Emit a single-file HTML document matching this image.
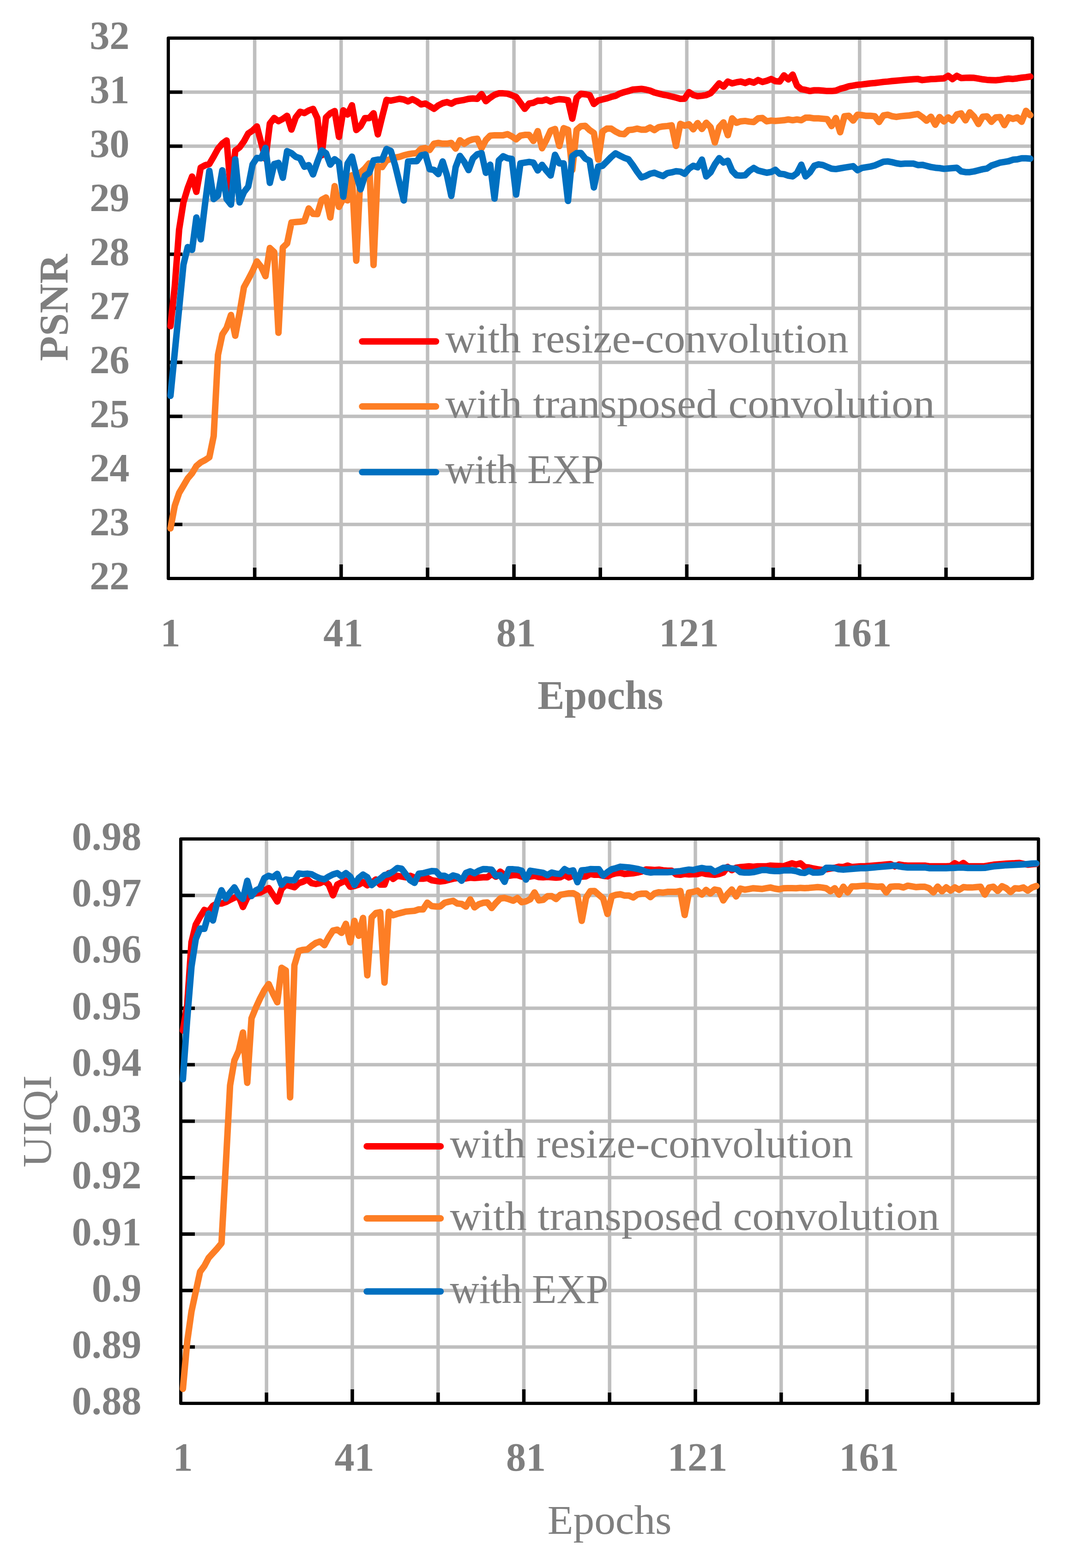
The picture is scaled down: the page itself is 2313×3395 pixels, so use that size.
<!DOCTYPE html>
<html><head><meta charset="utf-8"><style>
html,body{margin:0;padding:0;background:#fff;}
svg{display:block;}
text{font-family:'Liberation Serif', serif;}
</style></head><body>
<svg width="2313" height="3395" viewBox="0 0 2313 3395">
<rect width="2313" height="3395" fill="#fff"/>
<line x1="364.5" y1="199.5" x2="2236" y2="199.5" stroke="#bfbfbf" stroke-width="7.5"/>
<line x1="364.5" y1="316.5" x2="2236" y2="316.5" stroke="#bfbfbf" stroke-width="7.5"/>
<line x1="364.5" y1="433.5" x2="2236" y2="433.5" stroke="#bfbfbf" stroke-width="7.5"/>
<line x1="364.5" y1="550.5" x2="2236" y2="550.5" stroke="#bfbfbf" stroke-width="7.5"/>
<line x1="364.5" y1="667.5" x2="2236" y2="667.5" stroke="#bfbfbf" stroke-width="7.5"/>
<line x1="364.5" y1="784.5" x2="2236" y2="784.5" stroke="#bfbfbf" stroke-width="7.5"/>
<line x1="364.5" y1="901.5" x2="2236" y2="901.5" stroke="#bfbfbf" stroke-width="7.5"/>
<line x1="364.5" y1="1018.5" x2="2236" y2="1018.5" stroke="#bfbfbf" stroke-width="7.5"/>
<line x1="364.5" y1="1135.5" x2="2236" y2="1135.5" stroke="#bfbfbf" stroke-width="7.5"/>
<line x1="551.6" y1="82.5" x2="551.6" y2="1252.5" stroke="#bfbfbf" stroke-width="7.5"/>
<line x1="738.8" y1="82.5" x2="738.8" y2="1252.5" stroke="#bfbfbf" stroke-width="7.5"/>
<line x1="926.0" y1="82.5" x2="926.0" y2="1252.5" stroke="#bfbfbf" stroke-width="7.5"/>
<line x1="1113.1" y1="82.5" x2="1113.1" y2="1252.5" stroke="#bfbfbf" stroke-width="7.5"/>
<line x1="1300.2" y1="82.5" x2="1300.2" y2="1252.5" stroke="#bfbfbf" stroke-width="7.5"/>
<line x1="1487.4" y1="82.5" x2="1487.4" y2="1252.5" stroke="#bfbfbf" stroke-width="7.5"/>
<line x1="1674.5" y1="82.5" x2="1674.5" y2="1252.5" stroke="#bfbfbf" stroke-width="7.5"/>
<line x1="1861.7" y1="82.5" x2="1861.7" y2="1252.5" stroke="#bfbfbf" stroke-width="7.5"/>
<line x1="2048.8" y1="82.5" x2="2048.8" y2="1252.5" stroke="#bfbfbf" stroke-width="7.5"/>
<line x1="364.5" y1="199.5" x2="395.0" y2="199.5" stroke="#000" stroke-width="7.5"/>
<line x1="364.5" y1="316.5" x2="395.0" y2="316.5" stroke="#000" stroke-width="7.5"/>
<line x1="364.5" y1="433.5" x2="395.0" y2="433.5" stroke="#000" stroke-width="7.5"/>
<line x1="364.5" y1="550.5" x2="395.0" y2="550.5" stroke="#000" stroke-width="7.5"/>
<line x1="364.5" y1="667.5" x2="395.0" y2="667.5" stroke="#000" stroke-width="7.5"/>
<line x1="364.5" y1="784.5" x2="395.0" y2="784.5" stroke="#000" stroke-width="7.5"/>
<line x1="364.5" y1="901.5" x2="395.0" y2="901.5" stroke="#000" stroke-width="7.5"/>
<line x1="364.5" y1="1018.5" x2="395.0" y2="1018.5" stroke="#000" stroke-width="7.5"/>
<line x1="364.5" y1="1135.5" x2="395.0" y2="1135.5" stroke="#000" stroke-width="7.5"/>
<line x1="551.6" y1="1252.5" x2="551.6" y2="1229.0" stroke="#000" stroke-width="7.5"/>
<line x1="738.8" y1="1252.5" x2="738.8" y2="1222.0" stroke="#000" stroke-width="7.5"/>
<line x1="926.0" y1="1252.5" x2="926.0" y2="1229.0" stroke="#000" stroke-width="7.5"/>
<line x1="1113.1" y1="1252.5" x2="1113.1" y2="1222.0" stroke="#000" stroke-width="7.5"/>
<line x1="1300.2" y1="1252.5" x2="1300.2" y2="1229.0" stroke="#000" stroke-width="7.5"/>
<line x1="1487.4" y1="1252.5" x2="1487.4" y2="1222.0" stroke="#000" stroke-width="7.5"/>
<line x1="1674.5" y1="1252.5" x2="1674.5" y2="1229.0" stroke="#000" stroke-width="7.5"/>
<line x1="1861.7" y1="1252.5" x2="1861.7" y2="1222.0" stroke="#000" stroke-width="7.5"/>
<line x1="2048.8" y1="1252.5" x2="2048.8" y2="1229.0" stroke="#000" stroke-width="7.5"/>
<rect x="364.5" y="82.5" width="1871.5" height="1170.0" fill="none" stroke="#000" stroke-width="7" stroke-linejoin="round"/>
<text x="280.5" y="1276.0" text-anchor="end" font-weight="bold" font-size="86.3" fill="#7f7f7f">22</text>
<text x="280.5" y="1159.0" text-anchor="end" font-weight="bold" font-size="86.3" fill="#7f7f7f">23</text>
<text x="280.5" y="1042.0" text-anchor="end" font-weight="bold" font-size="86.3" fill="#7f7f7f">24</text>
<text x="280.5" y="925.0" text-anchor="end" font-weight="bold" font-size="86.3" fill="#7f7f7f">25</text>
<text x="280.5" y="808.0" text-anchor="end" font-weight="bold" font-size="86.3" fill="#7f7f7f">26</text>
<text x="280.5" y="691.0" text-anchor="end" font-weight="bold" font-size="86.3" fill="#7f7f7f">27</text>
<text x="280.5" y="574.0" text-anchor="end" font-weight="bold" font-size="86.3" fill="#7f7f7f">28</text>
<text x="280.5" y="457.0" text-anchor="end" font-weight="bold" font-size="86.3" fill="#7f7f7f">29</text>
<text x="280.5" y="340.0" text-anchor="end" font-weight="bold" font-size="86.3" fill="#7f7f7f">30</text>
<text x="280.5" y="223.0" text-anchor="end" font-weight="bold" font-size="86.3" fill="#7f7f7f">31</text>
<text x="280.5" y="106.0" text-anchor="end" font-weight="bold" font-size="86.3" fill="#7f7f7f">32</text>
<text x="369.2" y="1398.5" text-anchor="middle" font-weight="bold" font-size="86.3" fill="#7f7f7f">1</text>
<text x="743.5" y="1398.5" text-anchor="middle" font-weight="bold" font-size="86.3" fill="#7f7f7f">41</text>
<text x="1117.8" y="1398.5" text-anchor="middle" font-weight="bold" font-size="86.3" fill="#7f7f7f">81</text>
<text x="1492.1" y="1398.5" text-anchor="middle" font-weight="bold" font-size="86.3" fill="#7f7f7f">121</text>
<text x="1866.4" y="1398.5" text-anchor="middle" font-weight="bold" font-size="86.3" fill="#7f7f7f">161</text>
<text x="1300.2" y="1535" text-anchor="middle" font-weight="bold" textLength="272" lengthAdjust="spacingAndGlyphs" font-size="88.6" fill="#7f7f7f">Epochs</text>
<text transform="translate(145.7,666) rotate(-90)" text-anchor="middle" font-weight="bold" font-size="88.6" fill="#7f7f7f">PSNR</text>
<polyline points="369.2,706.3 378.5,620.0 387.9,497.0 397.3,438.0 406.6,407.0 416.0,382.2 425.3,415.3 434.7,363.0 444.0,358.0 453.4,355.0 462.8,339.0 472.1,322.0 481.5,311.0 490.8,304.2 500.2,415.0 509.5,326.0 518.9,319.0 528.3,306.0 537.6,289.0 547.0,282.7 556.3,273.7 565.7,309.5 575.0,344.2 584.4,267.6 593.8,255.5 603.1,262.4 612.5,257.4 621.8,250.8 631.2,280.6 640.5,254.2 649.9,242.1 659.3,244.7 668.6,239.2 678.0,235.7 687.3,255.8 696.7,336.3 706.0,254.2 715.4,245.2 724.8,240.5 734.1,296.4 743.5,238.9 752.8,247.9 762.2,227.9 771.6,281.4 780.9,273.2 790.3,255.8 799.6,255.8 809.0,245.2 818.3,290.9 827.7,252.6 837.1,216.3 846.4,217.9 855.8,216.0 865.1,214.0 874.5,215.5 883.8,219.5 893.2,214.7 902.6,219.5 911.9,226.1 921.3,224.2 930.6,229.7 940.0,235.6 949.3,228.2 958.7,223.4 968.1,221.1 977.4,224.5 986.8,219.5 996.1,217.9 1005.5,216.3 1014.8,214.0 1024.2,213.2 1033.6,214.0 1042.9,203.7 1052.3,219.0 1061.6,211.6 1071.0,205.3 1080.3,202.1 1089.7,202.1 1099.1,202.9 1108.4,206.1 1117.8,210.0 1127.1,222.6 1136.5,235.6 1145.9,224.2 1155.2,222.6 1164.6,217.9 1173.9,218.2 1183.3,215.5 1192.6,219.8 1202.0,216.3 1211.4,214.7 1220.7,215.5 1230.1,217.1 1239.4,256.9 1248.8,211.6 1258.1,202.9 1267.5,204.2 1276.9,205.8 1286.2,225.1 1295.6,217.6 1304.9,215.3 1314.3,212.9 1323.6,209.8 1333.0,207.4 1342.4,202.6 1351.7,199.5 1361.1,197.1 1370.4,194.0 1379.8,193.2 1389.1,192.4 1398.5,194.0 1407.9,196.3 1417.2,200.3 1426.6,202.6 1435.9,205.0 1445.3,206.6 1454.6,209.0 1464.0,211.3 1473.4,214.0 1482.7,213.7 1492.1,199.5 1501.4,205.8 1510.8,208.2 1520.2,207.4 1529.5,205.8 1538.9,201.9 1548.2,191.6 1557.6,180.5 1566.9,187.6 1576.3,176.6 1585.7,180.5 1595.0,178.2 1604.4,176.6 1613.7,179.7 1623.1,175.8 1632.4,179.0 1641.8,173.4 1651.2,177.4 1660.5,175.0 1669.9,171.1 1679.2,175.8 1688.6,176.6 1697.9,163.2 1707.3,171.9 1716.7,161.6 1726.0,185.3 1735.4,193.2 1744.7,194.7 1754.1,197.1 1763.4,195.5 1772.8,195.5 1782.2,196.3 1791.5,197.1 1800.9,197.1 1810.2,196.3 1819.6,192.4 1828.9,190.0 1838.3,186.9 1847.7,185.3 1857.0,183.7 1866.4,182.9 1875.7,181.8 1885.1,180.5 1894.5,179.7 1903.8,178.6 1913.2,177.4 1922.5,176.6 1931.9,175.5 1941.2,174.7 1950.6,173.9 1960.0,173.0 1969.3,172.3 1978.7,171.5 1988.0,171.1 1997.4,173.4 2006.7,172.4 2016.1,171.3 2025.5,170.9 2034.8,170.2 2044.2,169.7 2053.5,164.2 2062.9,171.3 2072.2,164.2 2081.6,169.0 2091.0,168.6 2100.3,168.2 2109.7,168.6 2119.0,170.2 2128.4,171.8 2137.7,172.9 2147.1,173.4 2156.5,173.7 2165.8,172.9 2175.2,171.3 2184.5,170.2 2193.9,170.9 2203.2,169.7 2212.6,168.2 2222.0,167.1 2231.3,165.8" fill="none" stroke="#ff0000" stroke-width="14" stroke-linejoin="round" stroke-linecap="round"/>
<polyline points="369.2,1144.0 378.5,1095.0 387.9,1067.4 397.3,1051.6 406.6,1035.8 416.0,1024.8 425.3,1009.0 434.7,1001.1 444.0,996.3 453.4,990.0 462.8,944.2 472.1,768.4 481.5,724.2 490.8,710.0 500.2,682.0 509.5,727.0 518.9,677.0 528.3,622.0 537.6,605.0 547.0,587.0 556.3,566.0 565.7,578.0 575.0,598.0 584.4,537.0 593.8,545.8 603.1,720.6 612.5,536.0 621.8,527.0 631.2,481.6 640.5,480.8 649.9,480.0 659.3,478.5 668.6,451.3 678.0,463.0 687.3,463.4 696.7,432.6 706.0,427.6 715.4,470.9 724.8,403.1 734.1,448.0 743.5,430.0 752.8,433.8 762.2,379.4 771.6,564.5 780.9,373.5 790.3,364.8 799.6,353.7 809.0,573.8 818.3,360.0 827.7,361.6 837.1,347.4 846.4,344.2 855.8,341.1 865.1,339.5 874.5,336.3 883.8,334.0 893.2,332.4 902.6,331.6 911.9,322.1 921.3,320.6 930.6,324.5 940.0,311.1 949.3,309.5 958.7,311.1 968.1,311.1 977.4,309.5 986.8,321.7 996.1,303.7 1005.5,311.4 1014.8,304.8 1024.2,301.6 1033.6,300.5 1042.9,320.9 1052.3,303.2 1061.6,293.7 1071.0,292.9 1080.3,292.9 1089.7,292.9 1099.1,290.5 1108.4,295.3 1117.8,301.6 1127.1,293.7 1136.5,292.1 1145.9,292.1 1155.2,305.1 1164.6,283.9 1173.9,320.9 1183.3,303.2 1192.6,282.7 1202.0,279.2 1211.4,316.1 1220.7,277.6 1230.1,281.1 1239.4,368.0 1248.8,281.0 1258.1,273.2 1267.5,272.6 1276.9,281.6 1286.2,288.0 1295.6,345.5 1304.9,284.8 1314.3,278.5 1323.6,278.5 1333.0,284.8 1342.4,289.5 1351.7,290.6 1361.1,281.6 1370.4,280.8 1379.8,278.5 1389.1,280.8 1398.5,280.8 1407.9,276.1 1417.2,281.6 1426.6,275.3 1435.9,273.7 1445.3,272.9 1454.6,271.3 1464.0,315.9 1473.4,268.2 1482.7,272.1 1492.1,269.0 1501.4,280.0 1510.8,266.6 1520.2,279.2 1529.5,265.8 1538.9,275.3 1548.2,308.5 1557.6,275.3 1566.9,265.0 1576.3,292.7 1585.7,256.3 1595.0,265.8 1604.4,262.7 1613.7,261.9 1623.1,263.4 1632.4,264.2 1641.8,256.3 1651.2,255.6 1660.5,262.7 1669.9,261.1 1679.2,261.9 1688.6,261.1 1697.9,260.3 1707.3,258.7 1716.7,260.3 1726.0,258.7 1735.4,260.3 1744.7,254.8 1754.1,254.8 1763.4,256.3 1772.8,256.3 1782.2,257.1 1791.5,257.9 1800.9,272.9 1810.2,255.6 1819.6,286.3 1828.9,251.6 1838.3,250.8 1847.7,261.1 1857.0,248.4 1866.4,249.2 1875.7,250.8 1885.1,250.8 1894.5,251.6 1903.8,264.2 1913.2,250.0 1922.5,248.4 1931.9,251.6 1941.2,253.2 1950.6,251.6 1960.0,250.8 1969.3,250.0 1978.7,248.4 1988.0,246.9 1997.4,253.4 2006.7,261.3 2016.1,252.7 2025.5,270.0 2034.8,253.4 2044.2,262.9 2053.5,254.2 2062.9,261.3 2072.2,247.9 2081.6,245.6 2091.0,260.6 2100.3,243.2 2109.7,252.7 2119.0,268.5 2128.4,252.7 2137.7,251.9 2147.1,263.7 2156.5,254.2 2165.8,253.4 2175.2,270.8 2184.5,254.2 2193.9,257.4 2203.2,254.2 2212.6,263.7 2222.0,240.0 2231.3,249.5" fill="none" stroke="#fd7e25" stroke-width="14" stroke-linejoin="round" stroke-linecap="round"/>
<polyline points="369.2,857.0 378.5,763.0 387.9,668.0 397.3,573.0 406.6,535.0 416.0,541.0 425.3,471.0 434.7,518.2 444.0,442.0 453.4,370.0 462.8,431.0 472.1,423.5 481.5,368.8 490.8,431.0 500.2,443.0 509.5,345.0 518.9,438.3 528.3,416.0 537.6,404.0 547.0,356.0 556.3,341.9 565.7,342.7 575.0,320.2 584.4,395.9 593.8,355.3 603.1,352.6 612.5,384.8 621.8,327.3 631.2,331.6 640.5,339.5 649.9,342.7 659.3,361.1 668.6,357.4 678.0,377.7 687.3,350.6 696.7,325.8 706.0,331.6 715.4,356.4 724.8,344.7 734.1,352.1 743.5,425.9 752.8,353.7 762.2,339.2 771.6,378.0 780.9,410.0 790.3,380.6 799.6,374.2 809.0,347.4 818.3,345.5 827.7,345.8 837.1,322.6 846.4,326.9 855.8,358.0 865.1,396.0 874.5,434.0 883.8,349.8 893.2,349.0 902.6,349.0 911.9,336.3 921.3,334.5 930.6,366.4 940.0,367.9 949.3,376.9 958.7,349.5 968.1,380.0 977.4,424.3 986.8,362.0 996.1,337.6 1005.5,350.5 1014.8,368.3 1024.2,343.0 1033.6,334.0 1042.9,331.6 1052.3,374.2 1061.6,356.6 1071.0,430.0 1080.3,347.4 1089.7,338.4 1099.1,342.7 1108.4,344.2 1117.8,421.2 1127.1,353.7 1136.5,352.1 1145.9,350.6 1155.2,352.1 1164.6,369.0 1173.9,356.9 1183.3,369.5 1192.6,380.1 1202.0,335.2 1211.4,353.7 1220.7,353.7 1230.1,435.0 1239.4,338.0 1248.8,331.6 1258.1,331.3 1267.5,343.2 1276.9,347.9 1286.2,405.9 1295.6,360.5 1304.9,359.0 1314.3,349.5 1323.6,340.0 1333.0,332.1 1342.4,336.9 1351.7,341.6 1361.1,344.8 1370.4,357.4 1379.8,371.6 1389.1,384.2 1398.5,381.1 1407.9,376.3 1417.2,374.0 1426.6,377.9 1435.9,381.1 1445.3,374.8 1454.6,373.2 1464.0,370.8 1473.4,371.6 1482.7,376.3 1492.1,365.3 1501.4,359.0 1510.8,362.2 1520.2,345.6 1529.5,381.9 1538.9,373.2 1548.2,355.8 1557.6,342.4 1566.9,351.9 1576.3,347.9 1585.7,370.0 1595.0,379.5 1604.4,380.3 1613.7,379.5 1623.1,370.0 1632.4,363.7 1641.8,369.2 1651.2,371.6 1660.5,374.0 1669.9,372.4 1679.2,367.7 1688.6,376.3 1697.9,377.1 1707.3,380.3 1716.7,381.9 1726.0,375.0 1735.4,356.6 1744.7,381.9 1754.1,373.2 1763.4,359.0 1772.8,355.8 1782.2,357.4 1791.5,361.4 1800.9,365.3 1810.2,366.1 1819.6,364.5 1828.9,362.9 1838.3,361.4 1847.7,359.8 1857.0,368.5 1866.4,363.7 1875.7,362.1 1885.1,360.6 1894.5,358.2 1903.8,354.3 1913.2,350.3 1922.5,349.5 1931.9,351.1 1941.2,353.5 1950.6,355.0 1960.0,354.3 1969.3,354.3 1978.7,354.3 1988.0,357.4 1997.4,356.9 2006.7,359.3 2016.1,361.6 2025.5,363.2 2034.8,364.0 2044.2,365.6 2053.5,364.8 2062.9,364.0 2072.2,363.2 2081.6,371.0 2091.0,372.7 2100.3,372.7 2109.7,371.1 2119.0,368.7 2128.4,366.4 2137.7,364.8 2147.1,358.5 2156.5,355.3 2165.8,352.1 2175.2,350.6 2184.5,349.0 2193.9,345.8 2203.2,345.0 2212.6,342.7 2222.0,342.7 2231.3,343.5" fill="none" stroke="#0070c0" stroke-width="14" stroke-linejoin="round" stroke-linecap="round"/>
<line x1="784.3" y1="739.2" x2="944.2" y2="739.2" stroke="#ff0000" stroke-width="14" stroke-linecap="round"/>
<text x="964.5" y="762.7" font-size="88.6" fill="#7f7f7f" textLength="873" lengthAdjust="spacingAndGlyphs">with resize-convolution</text>
<line x1="784.3" y1="880.1" x2="944.2" y2="880.1" stroke="#fd7e25" stroke-width="14" stroke-linecap="round"/>
<text x="964.5" y="903.6" font-size="88.6" fill="#7f7f7f" textLength="1060" lengthAdjust="spacingAndGlyphs">with transposed convolution</text>
<line x1="784.3" y1="1022.3" x2="944.2" y2="1022.3" stroke="#0070c0" stroke-width="14" stroke-linecap="round"/>
<text x="964.5" y="1045.8" font-size="88.6" fill="#7f7f7f" textLength="343" lengthAdjust="spacingAndGlyphs">with EXP</text>
<line x1="391.5" y1="1938.7" x2="2249" y2="1938.7" stroke="#bfbfbf" stroke-width="7.5"/>
<line x1="391.5" y1="2060.9" x2="2249" y2="2060.9" stroke="#bfbfbf" stroke-width="7.5"/>
<line x1="391.5" y1="2183.1" x2="2249" y2="2183.1" stroke="#bfbfbf" stroke-width="7.5"/>
<line x1="391.5" y1="2305.3" x2="2249" y2="2305.3" stroke="#bfbfbf" stroke-width="7.5"/>
<line x1="391.5" y1="2427.6" x2="2249" y2="2427.6" stroke="#bfbfbf" stroke-width="7.5"/>
<line x1="391.5" y1="2549.8" x2="2249" y2="2549.8" stroke="#bfbfbf" stroke-width="7.5"/>
<line x1="391.5" y1="2672.0" x2="2249" y2="2672.0" stroke="#bfbfbf" stroke-width="7.5"/>
<line x1="391.5" y1="2794.2" x2="2249" y2="2794.2" stroke="#bfbfbf" stroke-width="7.5"/>
<line x1="391.5" y1="2916.4" x2="2249" y2="2916.4" stroke="#bfbfbf" stroke-width="7.5"/>
<line x1="577.2" y1="1816.5" x2="577.2" y2="3038.6" stroke="#bfbfbf" stroke-width="7.5"/>
<line x1="763.0" y1="1816.5" x2="763.0" y2="3038.6" stroke="#bfbfbf" stroke-width="7.5"/>
<line x1="948.8" y1="1816.5" x2="948.8" y2="3038.6" stroke="#bfbfbf" stroke-width="7.5"/>
<line x1="1134.5" y1="1816.5" x2="1134.5" y2="3038.6" stroke="#bfbfbf" stroke-width="7.5"/>
<line x1="1320.2" y1="1816.5" x2="1320.2" y2="3038.6" stroke="#bfbfbf" stroke-width="7.5"/>
<line x1="1506.0" y1="1816.5" x2="1506.0" y2="3038.6" stroke="#bfbfbf" stroke-width="7.5"/>
<line x1="1691.8" y1="1816.5" x2="1691.8" y2="3038.6" stroke="#bfbfbf" stroke-width="7.5"/>
<line x1="1877.5" y1="1816.5" x2="1877.5" y2="3038.6" stroke="#bfbfbf" stroke-width="7.5"/>
<line x1="2063.2" y1="1816.5" x2="2063.2" y2="3038.6" stroke="#bfbfbf" stroke-width="7.5"/>
<line x1="391.5" y1="1938.7" x2="422.0" y2="1938.7" stroke="#000" stroke-width="7.5"/>
<line x1="391.5" y1="2060.9" x2="422.0" y2="2060.9" stroke="#000" stroke-width="7.5"/>
<line x1="391.5" y1="2183.1" x2="422.0" y2="2183.1" stroke="#000" stroke-width="7.5"/>
<line x1="391.5" y1="2305.3" x2="422.0" y2="2305.3" stroke="#000" stroke-width="7.5"/>
<line x1="391.5" y1="2427.6" x2="422.0" y2="2427.6" stroke="#000" stroke-width="7.5"/>
<line x1="391.5" y1="2549.8" x2="422.0" y2="2549.8" stroke="#000" stroke-width="7.5"/>
<line x1="391.5" y1="2672.0" x2="422.0" y2="2672.0" stroke="#000" stroke-width="7.5"/>
<line x1="391.5" y1="2794.2" x2="422.0" y2="2794.2" stroke="#000" stroke-width="7.5"/>
<line x1="391.5" y1="2916.4" x2="422.0" y2="2916.4" stroke="#000" stroke-width="7.5"/>
<line x1="577.2" y1="3038.6" x2="577.2" y2="3015.1" stroke="#000" stroke-width="7.5"/>
<line x1="763.0" y1="3038.6" x2="763.0" y2="3008.1" stroke="#000" stroke-width="7.5"/>
<line x1="948.8" y1="3038.6" x2="948.8" y2="3015.1" stroke="#000" stroke-width="7.5"/>
<line x1="1134.5" y1="3038.6" x2="1134.5" y2="3008.1" stroke="#000" stroke-width="7.5"/>
<line x1="1320.2" y1="3038.6" x2="1320.2" y2="3015.1" stroke="#000" stroke-width="7.5"/>
<line x1="1506.0" y1="3038.6" x2="1506.0" y2="3008.1" stroke="#000" stroke-width="7.5"/>
<line x1="1691.8" y1="3038.6" x2="1691.8" y2="3015.1" stroke="#000" stroke-width="7.5"/>
<line x1="1877.5" y1="3038.6" x2="1877.5" y2="3008.1" stroke="#000" stroke-width="7.5"/>
<line x1="2063.2" y1="3038.6" x2="2063.2" y2="3015.1" stroke="#000" stroke-width="7.5"/>
<rect x="391.5" y="1816.5" width="1857.5" height="1222.1" fill="none" stroke="#000" stroke-width="7" stroke-linejoin="round"/>
<text x="306.5" y="3062.1" text-anchor="end" font-weight="bold" font-size="86.3" fill="#7f7f7f">0.88</text>
<text x="306.5" y="2939.9" text-anchor="end" font-weight="bold" font-size="86.3" fill="#7f7f7f">0.89</text>
<text x="306.5" y="2817.7" text-anchor="end" font-weight="bold" font-size="86.3" fill="#7f7f7f">0.9</text>
<text x="306.5" y="2695.5" text-anchor="end" font-weight="bold" font-size="86.3" fill="#7f7f7f">0.91</text>
<text x="306.5" y="2573.3" text-anchor="end" font-weight="bold" font-size="86.3" fill="#7f7f7f">0.92</text>
<text x="306.5" y="2451.1" text-anchor="end" font-weight="bold" font-size="86.3" fill="#7f7f7f">0.93</text>
<text x="306.5" y="2328.8" text-anchor="end" font-weight="bold" font-size="86.3" fill="#7f7f7f">0.94</text>
<text x="306.5" y="2206.6" text-anchor="end" font-weight="bold" font-size="86.3" fill="#7f7f7f">0.95</text>
<text x="306.5" y="2084.4" text-anchor="end" font-weight="bold" font-size="86.3" fill="#7f7f7f">0.96</text>
<text x="306.5" y="1962.2" text-anchor="end" font-weight="bold" font-size="86.3" fill="#7f7f7f">0.97</text>
<text x="306.5" y="1840.0" text-anchor="end" font-weight="bold" font-size="86.3" fill="#7f7f7f">0.98</text>
<text x="396.1" y="3184.2" text-anchor="middle" font-weight="bold" font-size="86.3" fill="#7f7f7f">1</text>
<text x="767.6" y="3184.2" text-anchor="middle" font-weight="bold" font-size="86.3" fill="#7f7f7f">41</text>
<text x="1139.1" y="3184.2" text-anchor="middle" font-weight="bold" font-size="86.3" fill="#7f7f7f">81</text>
<text x="1510.6" y="3184.2" text-anchor="middle" font-weight="bold" font-size="86.3" fill="#7f7f7f">121</text>
<text x="1882.1" y="3184.2" text-anchor="middle" font-weight="bold" font-size="86.3" fill="#7f7f7f">161</text>
<text x="1320.2" y="3320.7" text-anchor="middle" textLength="268.7" lengthAdjust="spacingAndGlyphs" font-size="88.6" fill="#7f7f7f">Epochs</text>
<text transform="translate(109.6,2428) rotate(-90)" text-anchor="middle" textLength="199.3" lengthAdjust="spacingAndGlyphs" font-size="88.6" fill="#7f7f7f">UIQI</text>
<polyline points="396.1,2231.3 405.4,2176.0 414.7,2040.0 424.0,2002.0 433.3,1985.0 442.6,1970.2 451.9,1973.7 461.2,1961.1 470.4,1956.3 479.7,1956.3 489.0,1953.2 498.3,1948.4 507.6,1943.7 516.9,1940.5 526.2,1963.8 535.5,1943.7 544.7,1937.4 554.0,1934.2 563.3,1932.7 572.6,1927.9 581.9,1922.9 591.2,1937.4 600.5,1951.9 609.8,1924.8 619.0,1915.3 628.3,1918.4 637.6,1921.1 646.9,1912.1 656.2,1909.0 665.5,1904.2 674.8,1912.1 684.1,1914.0 693.3,1912.1 702.6,1907.4 711.9,1915.3 721.2,1938.5 730.5,1915.3 739.8,1910.5 749.1,1906.6 758.4,1920.0 767.6,1918.4 776.9,1915.3 786.2,1910.2 795.5,1916.9 804.8,1912.1 814.1,1904.2 823.4,1915.3 832.7,1915.3 841.9,1890.5 851.2,1903.0 860.5,1896.3 869.8,1897.9 879.1,1899.5 888.4,1896.3 897.7,1900.0 907.0,1902.6 916.2,1902.6 925.5,1901.1 934.8,1905.8 944.1,1907.4 953.4,1908.5 962.7,1907.4 972.0,1905.0 981.3,1902.6 990.5,1901.1 999.8,1902.6 1009.1,1901.9 1018.4,1900.3 1027.7,1901.1 1037.0,1900.3 1046.3,1899.5 1055.6,1899.5 1064.8,1892.4 1074.1,1898.2 1083.4,1887.3 1092.7,1894.8 1102.0,1896.3 1111.3,1894.8 1120.6,1894.8 1129.9,1897.9 1139.1,1899.5 1148.4,1897.9 1157.7,1896.3 1167.0,1899.0 1176.3,1899.5 1185.6,1898.7 1194.9,1899.5 1204.2,1900.3 1213.4,1899.5 1222.7,1894.8 1232.0,1899.8 1241.3,1896.3 1250.6,1897.9 1259.9,1897.9 1269.2,1897.4 1278.5,1892.4 1287.7,1894.0 1297.0,1894.0 1306.3,1896.3 1315.6,1897.4 1324.9,1893.2 1334.2,1890.8 1343.5,1890.0 1352.8,1892.4 1362.0,1891.6 1371.3,1890.8 1380.6,1889.2 1389.9,1886.9 1399.2,1882.6 1408.5,1882.9 1417.8,1883.7 1427.1,1882.9 1436.3,1884.5 1445.6,1885.3 1454.9,1885.3 1464.2,1893.2 1473.5,1894.0 1482.8,1892.4 1492.1,1893.2 1501.4,1892.7 1510.6,1892.4 1519.9,1890.0 1529.2,1892.4 1538.5,1893.2 1547.8,1894.0 1557.1,1892.4 1566.4,1889.2 1575.7,1877.1 1584.9,1884.0 1594.2,1879.0 1603.5,1877.4 1612.8,1876.6 1622.1,1875.8 1631.4,1876.6 1640.7,1875.8 1650.0,1875.8 1659.2,1875.8 1668.5,1874.2 1677.8,1874.7 1687.1,1875.0 1696.4,1875.8 1705.7,1872.6 1715.0,1869.2 1724.3,1871.9 1733.5,1869.2 1742.8,1877.4 1752.1,1878.2 1761.4,1880.5 1770.7,1882.1 1780.0,1883.7 1789.3,1882.1 1798.6,1880.5 1807.8,1879.0 1817.1,1876.6 1826.4,1877.4 1835.7,1874.2 1845.0,1877.3 1854.3,1876.5 1863.6,1875.7 1872.9,1875.7 1882.1,1875.0 1891.4,1874.2 1900.7,1873.4 1910.0,1872.6 1919.3,1871.8 1928.6,1871.0 1937.9,1875.9 1947.2,1871.8 1956.4,1873.4 1965.7,1874.2 1975.0,1874.2 1984.3,1874.2 1993.6,1874.2 2002.9,1874.2 2012.2,1875.7 2021.5,1875.7 2030.7,1875.7 2040.0,1875.7 2049.3,1875.7 2058.6,1875.3 2067.9,1869.0 2077.2,1874.2 2086.5,1868.6 2095.8,1875.8 2105.0,1875.8 2114.3,1875.8 2123.6,1875.8 2132.9,1875.5 2142.2,1873.9 2151.5,1872.3 2160.8,1871.5 2170.1,1870.7 2179.3,1869.9 2188.6,1869.5 2197.9,1869.1 2207.2,1868.4 2216.5,1870.4 2225.8,1872.2 2235.1,1871.3 2244.4,1870.5" fill="none" stroke="#ff0000" stroke-width="14" stroke-linejoin="round" stroke-linecap="round"/>
<polyline points="396.1,3007.1 405.4,2905.3 414.7,2839.6 424.0,2796.6 433.3,2753.7 442.6,2741.0 451.9,2723.4 461.2,2713.3 470.4,2703.2 479.7,2691.8 489.0,2523.0 498.3,2350.0 507.6,2296.0 516.9,2275.5 526.2,2235.6 535.5,2344.5 544.7,2204.8 554.0,2182.0 563.3,2161.8 572.6,2144.1 581.9,2130.7 591.2,2151.7 600.5,2170.1 609.8,2095.4 619.0,2101.2 628.3,2376.0 637.6,2090.0 646.9,2059.0 656.2,2056.6 665.5,2055.8 674.8,2048.0 684.1,2041.6 693.3,2038.5 702.6,2046.4 711.9,2029.0 721.2,2014.8 730.5,2012.9 739.8,2019.8 749.1,2000.2 758.4,2040.4 767.6,1993.9 776.9,2026.1 786.2,1987.6 795.5,2111.7 804.8,1986.4 814.1,1976.9 823.4,1975.0 832.7,2127.5 841.9,1974.2 851.2,1981.6 860.5,1978.5 869.8,1976.1 879.1,1973.7 888.4,1972.9 897.7,1972.1 907.0,1969.0 916.2,1969.0 925.5,1954.4 934.8,1961.9 944.1,1962.7 953.4,1962.7 962.7,1954.8 972.0,1952.4 981.3,1950.5 990.5,1956.3 999.8,1957.1 1009.1,1963.0 1018.4,1947.3 1027.7,1964.6 1037.0,1957.9 1046.3,1954.8 1055.6,1954.0 1064.8,1966.1 1074.1,1954.8 1083.4,1945.3 1092.7,1944.2 1102.0,1946.9 1111.3,1950.3 1120.6,1944.5 1129.9,1953.5 1139.1,1951.6 1148.4,1946.9 1157.7,1932.3 1167.0,1949.5 1176.3,1948.4 1185.6,1940.5 1194.9,1940.2 1204.2,1946.4 1213.4,1937.4 1222.7,1935.8 1232.0,1934.2 1241.3,1933.9 1250.6,1939.0 1259.9,1993.8 1269.2,1943.7 1278.5,1929.5 1287.7,1929.2 1297.0,1937.4 1306.3,1945.3 1315.6,1978.8 1324.9,1940.5 1334.2,1937.4 1343.5,1936.3 1352.8,1939.0 1362.0,1939.0 1371.3,1943.2 1380.6,1936.6 1389.9,1935.0 1399.2,1934.7 1408.5,1942.4 1417.8,1934.2 1427.1,1931.9 1436.3,1932.7 1445.6,1931.1 1454.9,1931.1 1464.2,1931.1 1473.5,1929.2 1482.8,1981.1 1492.1,1932.7 1501.4,1931.1 1510.6,1928.4 1519.9,1936.9 1529.2,1926.8 1538.5,1934.5 1547.8,1926.0 1557.1,1927.9 1566.4,1949.5 1575.7,1935.8 1584.9,1926.0 1594.2,1940.9 1603.5,1924.0 1612.8,1926.3 1622.1,1924.8 1631.4,1923.2 1640.7,1924.0 1650.0,1924.8 1659.2,1923.2 1668.5,1921.6 1677.8,1924.0 1687.1,1925.5 1696.4,1923.2 1705.7,1922.9 1715.0,1922.9 1724.3,1923.2 1733.5,1922.4 1742.8,1922.9 1752.1,1922.4 1761.4,1921.6 1770.7,1920.8 1780.0,1921.6 1789.3,1923.2 1798.6,1929.8 1807.8,1923.2 1817.1,1936.9 1826.4,1920.0 1835.7,1932.2 1845.0,1919.2 1854.3,1919.2 1863.6,1918.4 1872.9,1917.7 1882.1,1918.4 1891.4,1919.2 1900.7,1920.0 1910.0,1919.2 1919.3,1932.2 1928.6,1920.0 1937.9,1919.2 1947.2,1919.2 1956.4,1921.6 1965.7,1917.7 1975.0,1919.2 1984.3,1920.8 1993.6,1920.0 2002.9,1920.0 2012.2,1923.2 2021.5,1932.2 2030.7,1919.7 2040.0,1929.8 2049.3,1921.3 2058.6,1928.2 2067.9,1921.3 2077.2,1926.7 2086.5,1920.8 2095.8,1921.6 2105.0,1921.6 2114.3,1920.8 2123.6,1920.0 2132.9,1936.9 2142.2,1921.6 2151.5,1920.0 2160.8,1929.0 2170.1,1918.9 2179.3,1923.2 2188.6,1931.4 2197.9,1923.2 2207.2,1924.0 2216.5,1921.6 2225.8,1928.2 2235.1,1921.6 2244.4,1918.4" fill="none" stroke="#fd7e25" stroke-width="14" stroke-linejoin="round" stroke-linecap="round"/>
<polyline points="396.1,2336.8 405.4,2207.0 414.7,2093.0 424.0,2033.0 433.3,2010.5 442.6,2011.1 451.9,1978.1 461.2,1993.0 470.4,1953.2 479.7,1927.6 489.0,1945.6 498.3,1932.7 507.6,1921.3 516.9,1937.4 526.2,1946.4 535.5,1907.1 544.7,1940.1 554.0,1927.9 563.3,1923.2 572.6,1901.1 581.9,1896.3 591.2,1899.5 600.5,1892.1 609.8,1915.6 619.0,1904.2 628.3,1905.8 637.6,1905.8 646.9,1891.3 656.2,1892.4 665.5,1891.6 674.8,1892.9 684.1,1897.9 693.3,1901.9 702.6,1903.8 711.9,1897.9 721.2,1893.2 730.5,1890.5 739.8,1897.4 749.1,1890.5 758.4,1897.9 767.6,1916.4 776.9,1901.1 786.2,1893.6 795.5,1899.5 804.8,1916.4 814.1,1909.0 823.4,1902.6 832.7,1894.8 841.9,1892.4 851.2,1886.9 860.5,1879.4 869.8,1881.0 879.1,1893.2 888.4,1905.8 897.7,1911.6 907.0,1891.6 916.2,1890.8 925.5,1888.4 934.8,1886.1 944.1,1886.5 953.4,1896.3 962.7,1896.3 972.0,1901.1 981.3,1895.5 990.5,1897.9 999.8,1906.9 1009.1,1890.0 1018.4,1886.5 1027.7,1890.8 1037.0,1885.3 1046.3,1881.8 1055.6,1882.1 1064.8,1882.9 1074.1,1896.3 1083.4,1894.8 1092.7,1909.3 1102.0,1882.1 1111.3,1882.1 1120.6,1882.9 1129.9,1885.3 1139.1,1904.5 1148.4,1885.3 1157.7,1886.9 1167.0,1888.4 1176.3,1890.0 1185.6,1894.8 1194.9,1889.2 1204.2,1891.6 1213.4,1892.4 1222.7,1881.8 1232.0,1886.9 1241.3,1884.5 1250.6,1910.1 1259.9,1884.5 1269.2,1883.7 1278.5,1881.8 1287.7,1882.1 1297.0,1882.1 1306.3,1895.9 1315.6,1888.4 1324.9,1882.1 1334.2,1879.7 1343.5,1876.6 1352.8,1877.4 1362.0,1878.2 1371.3,1879.7 1380.6,1881.3 1389.9,1883.7 1399.2,1887.6 1408.5,1889.2 1417.8,1888.4 1427.1,1888.4 1436.3,1888.4 1445.6,1888.4 1454.9,1888.1 1464.2,1886.9 1473.5,1886.1 1482.8,1884.5 1492.1,1882.9 1501.4,1883.7 1510.6,1881.3 1519.9,1879.4 1529.2,1881.3 1538.5,1881.3 1547.8,1888.0 1557.1,1883.7 1566.4,1879.0 1575.7,1878.6 1584.9,1880.5 1594.2,1881.0 1603.5,1888.4 1612.8,1889.2 1622.1,1889.2 1631.4,1888.4 1640.7,1886.1 1650.0,1883.7 1659.2,1883.7 1668.5,1885.3 1677.8,1886.1 1687.1,1886.1 1696.4,1884.5 1705.7,1884.5 1715.0,1884.5 1724.3,1886.1 1733.5,1889.2 1742.8,1890.0 1752.1,1885.3 1761.4,1889.2 1770.7,1889.2 1780.0,1888.4 1789.3,1879.0 1798.6,1879.0 1807.8,1879.7 1817.1,1882.1 1826.4,1882.9 1835.7,1882.1 1845.0,1881.3 1854.3,1880.5 1863.6,1879.7 1872.9,1879.7 1882.1,1879.0 1891.4,1878.2 1900.7,1877.4 1910.0,1876.6 1919.3,1875.8 1928.6,1875.0 1937.9,1873.9 1947.2,1875.8 1956.4,1877.4 1965.7,1878.2 1975.0,1878.2 1984.3,1878.2 1993.6,1878.2 2002.9,1878.2 2012.2,1879.7 2021.5,1879.7 2030.7,1879.7 2040.0,1879.7 2049.3,1879.7 2058.6,1879.3 2067.9,1879.0 2077.2,1878.2 2086.5,1878.6 2095.8,1879.3 2105.0,1879.3 2114.3,1879.3 2123.6,1879.3 2132.9,1879.0 2142.2,1877.4 2151.5,1875.8 2160.8,1875.0 2170.1,1874.2 2179.3,1873.4 2188.6,1873.0 2197.9,1872.6 2207.2,1871.9 2216.5,1871.4 2225.8,1870.7 2235.1,1869.8 2244.4,1869.5" fill="none" stroke="#0070c0" stroke-width="14" stroke-linejoin="round" stroke-linecap="round"/>
<line x1="794.3" y1="2481.9" x2="954.2" y2="2481.9" stroke="#ff0000" stroke-width="14" stroke-linecap="round"/>
<text x="974.5" y="2506.4" font-size="88.6" fill="#7f7f7f" textLength="873" lengthAdjust="spacingAndGlyphs">with resize-convolution</text>
<line x1="794.3" y1="2638.1" x2="954.2" y2="2638.1" stroke="#fd7e25" stroke-width="14" stroke-linecap="round"/>
<text x="974.5" y="2662.6" font-size="88.6" fill="#7f7f7f" textLength="1060" lengthAdjust="spacingAndGlyphs">with transposed convolution</text>
<line x1="794.3" y1="2796.2" x2="954.2" y2="2796.2" stroke="#0070c0" stroke-width="14" stroke-linecap="round"/>
<text x="974.5" y="2820.7" font-size="88.6" fill="#7f7f7f" textLength="343" lengthAdjust="spacingAndGlyphs">with EXP</text>
</svg>
</body></html>
